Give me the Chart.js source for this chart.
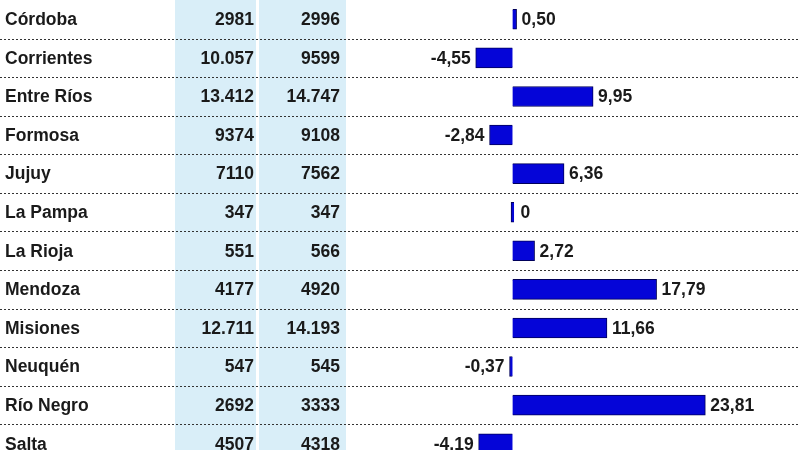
<!DOCTYPE html>
<html><head><meta charset="utf-8">
<script src="https://cdn.jsdelivr.net/npm/chart.js@4"></script>
<style>
html,body{margin:0;padding:0;background:#fff;overflow:hidden;width:800px;height:450px}
#wrap{width:800px;height:463px}
</style></head>
<body><div id="wrap"><canvas id="c" width="800" height="463"></canvas></div>
<script>
const provinces = ['Córdoba','Corrientes','Entre Ríos','Formosa','Jujuy','La Pampa','La Rioja','Mendoza','Misiones','Neuquén','Río Negro','Salta'];
const before = [2981,10057,13412,9374,7110,347,551,4177,12711,547,2692,4507];
const after = [2996,9599,14747,9108,7562,347,566,4920,14193,545,3333,4318];
const change = [0.50,-4.55,9.95,-2.84,6.36,0,2.72,17.79,11.66,-0.37,23.81,-4.19];

const fmtInt = n => n >= 10000 ? String(n).replace(/\B(?=(\d{3})+(?!\d))/g, '.') : String(n);
const fmtDec = n => n === 0 ? '0' : n.toFixed(2).replace('.', ',');
const FONT = 'bold 17.5px "Liberation Sans", Arial, sans-serif';

const tablePlugin = {
  id: 'table',
  beforeDatasetsDraw(chart) {
    const c = chart.ctx, y = chart.scales.y;
    c.save();
    c.fillStyle = '#d9eef8';
    c.fillRect(175, 0, 81, chart.height);
    c.fillRect(259, 0, 87, chart.height);
    c.strokeStyle = '#333';
    c.lineWidth = 1;
    c.setLineDash([2, 2]);
    for (let i = 1; i < provinces.length; i++) {
      const yy = Math.round(y.getPixelForValue(i) - 19.3) + 0.5;
      c.beginPath(); c.moveTo(0, yy); c.lineTo(800, yy); c.stroke();
    }
    c.restore();
  },
  afterDatasetsDraw(chart) {
    const c = chart.ctx, y = chart.scales.y, x = chart.scales.x;
    c.save();
    c.font = FONT;
    c.fillStyle = '#1a1a1a';
    c.textBaseline = 'middle';
    provinces.forEach((p, i) => {
      const yy = y.getPixelForValue(i) + 1;
      c.textAlign = 'left'; c.fillText(p, 5, yy);
      c.textAlign = 'right';
      c.fillText(fmtInt(before[i]), 254, yy);
      c.fillText(fmtInt(after[i]), 340, yy);
      const v = change[i];
      const end = x.getPixelForValue(v);
      if (v < 0) { c.textAlign = 'right'; c.fillText(fmtDec(v), end - 5, yy); }
      else { c.textAlign = 'left'; c.fillText(fmtDec(v), Math.max(end, x.getPixelForValue(0) + 3) + 5, yy); }
    });
    c.restore();
  }
};

new Chart(document.getElementById('c'), {
  type: 'bar',
  data: {
    labels: provinces,
    datasets: [{
      data: change,
      backgroundColor: '#0505d8',
      borderColor: '#00005a',
      borderWidth: 1,
      barThickness: 20,
      minBarLength: 3
    }]
  },
  options: {
    indexAxis: 'y',
    responsive: false,
    animation: false,
    layout: { padding: 0 },
    plugins: { legend: { display: false }, tooltip: { enabled: false } },
    scales: {
      x: { display: false, min: -63.3, max: 35.5 },
      y: { display: false }
    }
  },
  plugins: [tablePlugin]
});
</script></body></html>
